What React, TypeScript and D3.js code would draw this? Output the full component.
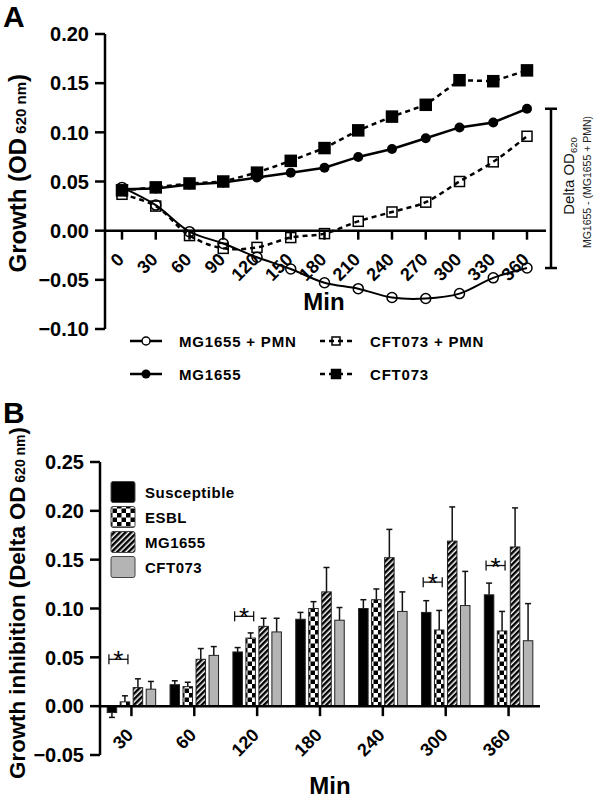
import React from "react";
import * as d3 from "d3";

// ---------- Panel A data ----------
const minutesA = [0, 30, 60, 90, 120, 150, 180, 210, 240, 270, 300, 330, 360];
const mg1655Pmn = [0.044, 0.026, -0.001, -0.013, -0.027, -0.039, -0.053, -0.059, -0.068, -0.069, -0.064, -0.048, -0.038];
const mg1655Growth = [0.042, 0.043, 0.047, 0.049, 0.054, 0.059, 0.064, 0.075, 0.083, 0.094, 0.105, 0.11, 0.124];
const cft073Pmn = [0.037, 0.025, -0.005, -0.018, -0.017, -0.007, -0.003, 0.0095, 0.019, 0.029, 0.05, 0.07, 0.096];
const cft073Growth = [0.041, 0.044, 0.048, 0.05, 0.059, 0.071, 0.084, 0.102, 0.116, 0.128, 0.153, 0.152, 0.163];
const yTicksA = [-0.1, -0.05, 0, 0.05, 0.1, 0.15, 0.2];

// ---------- Panel B data ----------
const groupsB = ["30", "60", "120", "180", "240", "300", "360"];
const seriesB = ["Susceptible", "ESBL", "MG1655", "CFT073"];
const susceptible = [-0.0065, 0.022, 0.0555, 0.089, 0.1, 0.096, 0.114];
const susceptibleErr = [0.005, 0.004, 0.0045, 0.007, 0.009, 0.012, 0.012];
const esbl = [0.0044, 0.02, 0.0697, 0.1, 0.109, 0.078, 0.077];
const esblErr = [0.0062, 0.0045, 0.0053, 0.007, 0.011, 0.02, 0.02];
const mg1655 = [0.019, 0.048, 0.0817, 0.117, 0.152, 0.169, 0.163];
const mg1655Err = [0.009, 0.011, 0.0083, 0.025, 0.029, 0.035, 0.04];
const cft073 = [0.0174, 0.052, 0.076, 0.088, 0.097, 0.103, 0.067];
const cft073Err = [0.0079, 0.009, 0.014, 0.013, 0.02, 0.035, 0.038];
const starLevels: (number | null)[] = [0.048, null, 0.092, null, null, 0.127, 0.144];
const yTicksB = [-0.05, 0, 0.05, 0.1, 0.15, 0.2, 0.25];

const FONT = "'Liberation Sans', Arial, Helvetica, sans-serif";
const fmt = d3.format(".2f");

export default function App() {
  // Panel A scales
  const xA = d3.scaleLinear().domain([0, 360]).range([122, 527]);
  const yA = d3.scaleLinear().domain([-0.1, 0.2]).range([329, 34]);
  const axisXA = 105;
  const xEndA = 546;

  const straight = d3
    .line<number>()
    .x((_, i) => xA(minutesA[i]))
    .y((d) => yA(d));
  const smooth = d3
    .line<number>()
    .x((_, i) => xA(minutesA[i]))
    .y((d) => yA(d))
    .curve(d3.curveCatmullRom.alpha(0.5));

  // Panel B scales
  const x0 = d3.scaleBand<string>().domain(groupsB).range([100, 540]).padding(0);
  const x1 = d3
    .scaleBand<string>()
    .domain(seriesB)
    .range([-26, 26])
    .paddingInner(0.27)
    .paddingOuter(0.135);
  const yB = d3.scaleLinear().domain([-0.05, 0.25]).range([755, 462]);
  const axisXB = 100;
  const values = [susceptible, esbl, mg1655, cft073];
  const errs = [susceptibleErr, esblErr, mg1655Err, cft073Err];
  const fills = ["#000", "url(#checker)", "url(#hatch)", "#b4b4b4"];

  const gc = (g: string) => (x0(g) as number) + x0.bandwidth() / 2;
  const bc = (g: string, s: string) => gc(g) + (x1(s) as number) + x1.bandwidth() / 2;

  const sq = (cx: number, cy: number, s: number, filled: boolean, key?: string) => (
    <rect
      key={key}
      x={cx - s / 2}
      y={cy - s / 2}
      width={s}
      height={s}
      fill={filled ? "#000" : "none"}
      stroke="#000"
      strokeWidth={1.5}
    />
  );

  return (
    <svg
      width={600}
      height={800}
      style={{ position: "absolute", left: 0, top: 0, background: "#fff" }}
      fontFamily={FONT}
    >
      <defs>
        <pattern id="checker" width={9} height={9} patternUnits="userSpaceOnUse">
          <rect width={9} height={9} fill="#fff" />
          <rect width={4.5} height={4.5} fill="#000" />
          <rect x={4.5} y={4.5} width={4.5} height={4.5} fill="#000" />
        </pattern>
        <pattern
          id="hatch"
          width={4}
          height={4}
          patternUnits="userSpaceOnUse"
          patternTransform="rotate(45)"
        >
          <rect width={4} height={4} fill="#fff" />
          <rect width={2.5} height={4} fill="#000" />
        </pattern>
      </defs>

      {/* ================= PANEL A ================= */}
      <text x={3} y={27} fontSize={30} fontWeight="bold">A</text>

      {/* y axis */}
      <line x1={axisXA} x2={axisXA} y1={yA(0.2)} y2={yA(-0.1)} stroke="#000" strokeWidth={2.5} />
      {yTicksA.map((t) => (
        <g key={"ya" + t}>
          <line x1={axisXA - 10} x2={axisXA} y1={yA(t)} y2={yA(t)} stroke="#000" strokeWidth={2.5} />
          <text x={89} y={yA(t)} dy="0.36em" textAnchor="end" fontSize={20} fontWeight="bold">
            {fmt(t)}
          </text>
        </g>
      ))}
      <text transform={`translate(26,74) rotate(-90)`} textAnchor="end" fontWeight="bold">
        <tspan fontSize={24}>Growth (OD</tspan>
        <tspan fontSize={15}> 620 nm</tspan>
        <tspan fontSize={24}>)</tspan>
      </text>

      {/* x axis at zero */}
      <line x1={axisXA} x2={xEndA} y1={yA(0)} y2={yA(0)} stroke="#000" strokeWidth={2.5} />
      {minutesA.map((m) => (
        <g key={"xa" + m}>
          <line x1={xA(m)} x2={xA(m)} y1={yA(0)} y2={yA(0) + 9} stroke="#000" strokeWidth={2.5} />
          <text
            transform={`translate(${xA(m) + 3},${yA(0) + 30}) rotate(-45)`}
            textAnchor="end"
            fontSize={18}
            fontWeight="bold"
          >
            {m}
          </text>
        </g>
      ))}
      <text x={324} y={310} textAnchor="middle" fontSize={24} fontWeight="bold">Min</text>

      {/* lines */}
      <path d={straight(mg1655Growth) || ""} fill="none" stroke="#000" strokeWidth={2.5} />
      <path d={straight(cft073Growth) || ""} fill="none" stroke="#000" strokeWidth={2.5} strokeDasharray="5,4" />
      <path d={smooth(mg1655Pmn) || ""} fill="none" stroke="#000" strokeWidth={2} />
      <path d={smooth(cft073Pmn) || ""} fill="none" stroke="#000" strokeWidth={2.5} strokeDasharray="5,4" />

      {/* markers */}
      {cft073Pmn.map((v, i) => sq(xA(minutesA[i]), yA(v), 10, false, "cp" + i))}
      {mg1655Pmn.map((v, i) => (
        <circle key={"mp" + i} cx={xA(minutesA[i])} cy={yA(v)} r={5} fill="none" stroke="#000" strokeWidth={1.5} />
      ))}
      {mg1655Growth.map((v, i) => (
        <circle key={"mg" + i} cx={xA(minutesA[i])} cy={yA(v)} r={5} fill="#000" />
      ))}
      {cft073Growth.map((v, i) => sq(xA(minutesA[i]), yA(v), 11, true, "cg" + i))}

      {/* delta bracket */}
      {(() => {
        const top = yA(mg1655Growth[mg1655Growth.length - 1]);
        const bot = yA(mg1655Pmn[mg1655Pmn.length - 1]);
        const bx = 551;
        return (
          <g>
            <line x1={bx} x2={bx} y1={top} y2={bot} stroke="#000" strokeWidth={2.5} />
            <line x1={bx - 6} x2={bx + 6} y1={top} y2={top} stroke="#000" strokeWidth={2.5} />
            <line x1={bx - 6} x2={bx + 6} y1={bot} y2={bot} stroke="#000" strokeWidth={2.5} />
          </g>
        );
      })()}
      <text transform="translate(574,176) rotate(-90)" textAnchor="middle" fill="#111">
        <tspan fontSize={15}>Delta OD</tspan>
        <tspan fontSize={9.5} dy={3}>620</tspan>
      </text>
      <text transform="translate(591,182) rotate(-90)" textAnchor="middle" fontSize={10.5} fill="#222">
        MG1655 - (MG1655 + PMN)
      </text>

      {/* legend A */}
      {(() => {
        const r1 = 341;
        const r2 = 374;
        return (
          <g fontSize={15} fontWeight="bold" letterSpacing={0.8}>
            <line x1={130} x2={162} y1={r1} y2={r1} stroke="#000" strokeWidth={2.5} />
            <circle cx={146} cy={r1} r={4} fill="#fff" stroke="#000" strokeWidth={1.5} />
            <text x={179} y={r1 + 5.5}>MG1655 + PMN</text>
            <line x1={130} x2={162} y1={r2} y2={r2} stroke="#000" strokeWidth={2.5} />
            <circle cx={146} cy={r2} r={4.5} fill="#000" />
            <text x={179} y={r2 + 5.5}>MG1655</text>

            <line x1={320} x2={352} y1={r1} y2={r1} stroke="#000" strokeWidth={2.5} strokeDasharray="5,4" />
            {sq(336, r1, 8, false)}
            <text x={370} y={r1 + 5.5}>CFT073 + PMN</text>
            <line x1={320} x2={352} y1={r2} y2={r2} stroke="#000" strokeWidth={2.5} strokeDasharray="5,4" />
            {sq(336, r2, 9, true)}
            <text x={370} y={r2 + 5.5}>CFT073</text>
          </g>
        );
      })()}

      {/* ================= PANEL B ================= */}
      <text x={3} y={423} fontSize={30} fontWeight="bold">B</text>

      {/* bars */}
      {groupsB.map((g, gi) =>
        seriesB.map((s, si) => {
          const v = values[si][gi];
          const e = errs[si][gi];
          const x = gc(g) + (x1(s) as number);
          const w = x1.bandwidth();
          const y0 = yB(0);
          const yv = yB(v);
          const cx = x + w / 2;
          const ye = v >= 0 ? yB(v + e) : yB(v - e);
          return (
            <g key={g + s}>
              <line x1={cx} x2={cx} y1={yv} y2={ye} stroke="#111" strokeWidth={1.5} />
              <line x1={cx - 3} x2={cx + 3} y1={ye} y2={ye} stroke="#111" strokeWidth={1.5} />
              <rect
                x={x}
                y={Math.min(yv, y0)}
                width={w}
                height={Math.abs(y0 - yv)}
                fill={fills[si]}
                stroke="#222"
                strokeWidth={1}
              />
            </g>
          );
        })
      )}

      {/* significance brackets */}
      {groupsB.map((g, gi) => {
        const lv = starLevels[gi];
        if (lv == null) return null;
        const xa = bc(g, "Susceptible") - 3;
        const xb = bc(g, "ESBL") + 3;
        const yy = yB(lv);
        return (
          <g key={"star" + g}>
            <line x1={xa} x2={xb} y1={yy} y2={yy} stroke="#111" strokeWidth={1.3} />
            <line x1={xa} x2={xa} y1={yy - 5} y2={yy + 5} stroke="#111" strokeWidth={1.3} />
            <line x1={xb} x2={xb} y1={yy - 5} y2={yy + 5} stroke="#111" strokeWidth={1.3} />
            <text x={(xa + xb) / 2} y={yy + 10} textAnchor="middle" fontSize={26}>*</text>
          </g>
        );
      })}

      {/* y axis B */}
      <line x1={axisXB} x2={axisXB} y1={yB(0.25)} y2={yB(-0.05)} stroke="#000" strokeWidth={2.5} />
      {yTicksB.map((t) => (
        <g key={"yb" + t}>
          <line x1={axisXB - 10} x2={axisXB} y1={yB(t)} y2={yB(t)} stroke="#000" strokeWidth={2.5} />
          <text x={84} y={yB(t)} dy="0.36em" textAnchor="end" fontSize={20} fontWeight="bold">
            {fmt(t)}
          </text>
        </g>
      ))}
      <text transform={`translate(25,427) rotate(-90)`} textAnchor="end" fontWeight="bold">
        <tspan fontSize={22.3}>Growth inhibition (Delta OD</tspan>
        <tspan fontSize={14}> 620 nm</tspan>
        <tspan fontSize={22.3}>)</tspan>
      </text>

      {/* x axis B */}
      <line x1={axisXB} x2={540} y1={yB(0)} y2={yB(0)} stroke="#000" strokeWidth={2.5} />
      {groupsB.map((g) => (
        <g key={"xb" + g}>
          <line x1={gc(g)} x2={gc(g)} y1={yB(0)} y2={yB(0) + 10} stroke="#000" strokeWidth={2.5} />
          <text
            transform={`translate(${gc(g) + 3},${yB(0) + 30}) rotate(-45)`}
            textAnchor="end"
            fontSize={18}
            fontWeight="bold"
          >
            {g}
          </text>
        </g>
      ))}
      <text x={330} y={794} textAnchor="middle" fontSize={24} fontWeight="bold">Min</text>

      {/* legend B */}
      {seriesB.map((s, i) => {
        const cy = 492 + i * 25;
        return (
          <g key={"lb" + s}>
            <rect x={111} y={cy - 10.5} width={24} height={21} rx={2} fill={fills[i]} stroke="#444" strokeWidth={1} />
            <text x={145} y={cy + 5.5} fontSize={15} fontWeight="bold" letterSpacing={0.5}>
              {s}
            </text>
          </g>
        );
      })}
    </svg>
  );
}
